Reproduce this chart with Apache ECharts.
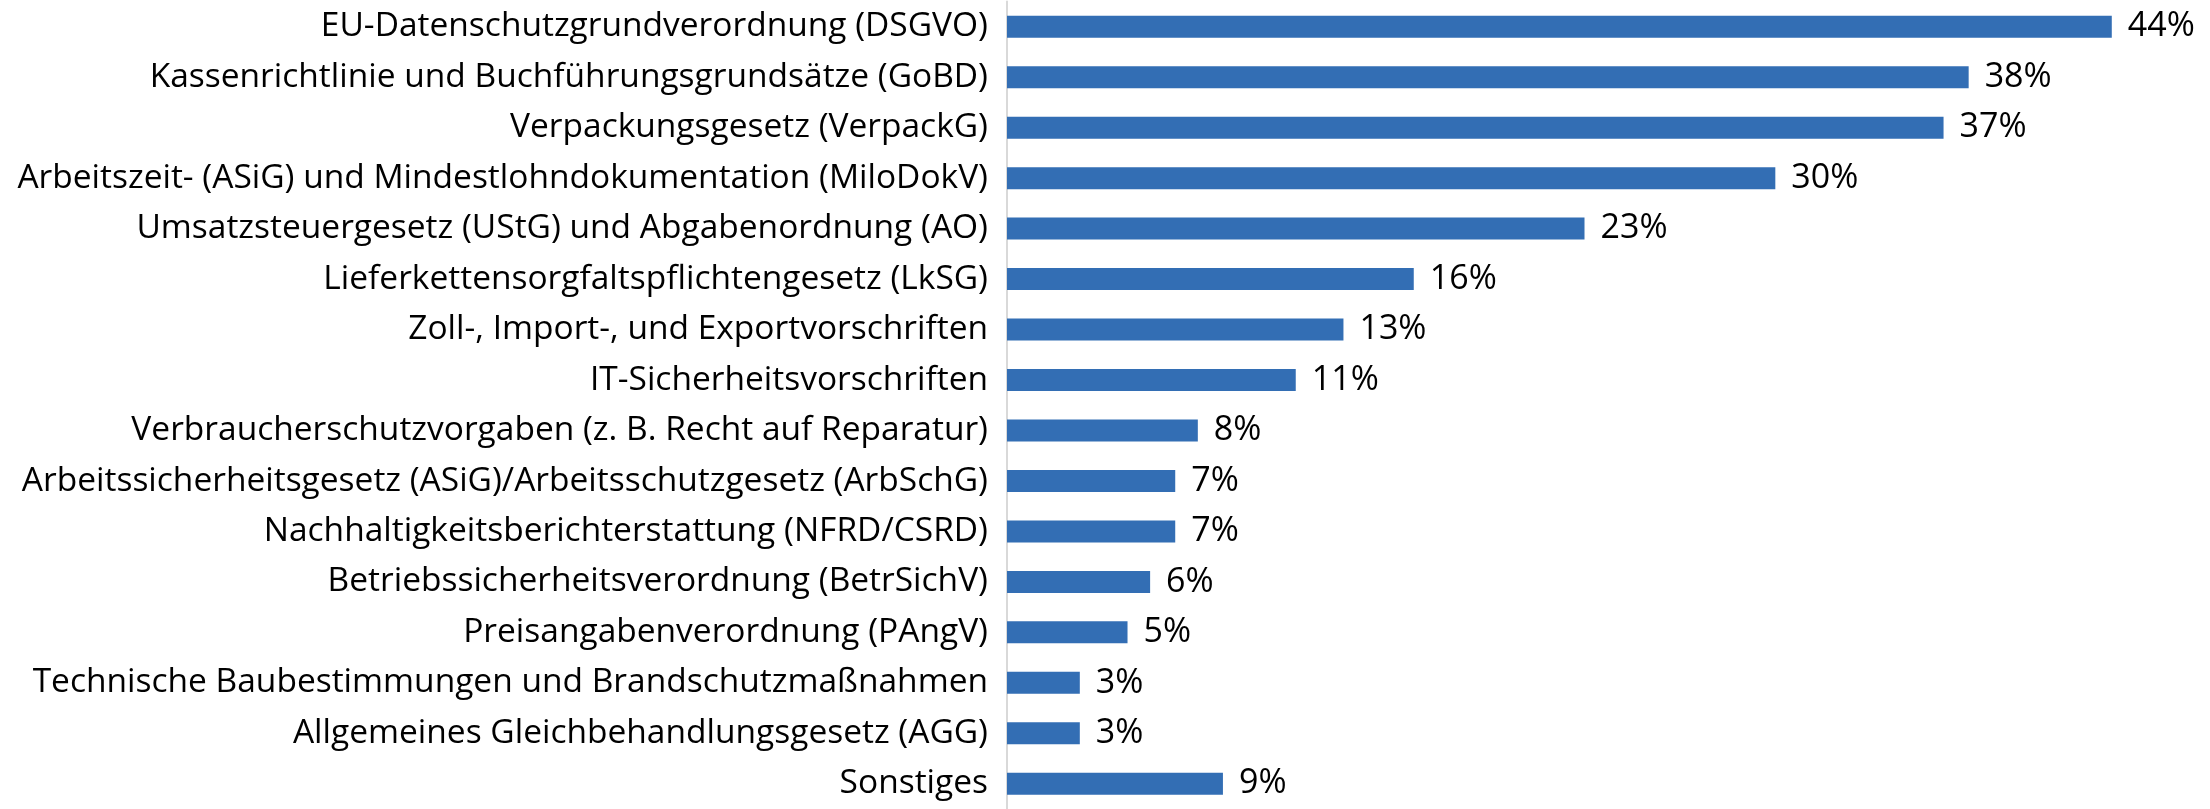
<!DOCTYPE html>
<html>
<head>
<meta charset="utf-8">
<script src="https://cdn.jsdelivr.net/npm/echarts@6/dist/echarts.min.js"></script>
<style>
  html, body { margin: 0; padding: 0; background: #fff; }
  #chart { width: 2210px; height: 809px; }
</style>
</head>
<body>
<div id="chart"></div>
<script>
  // categories, top to bottom
  const categories = [
    'EU-Datenschutzgrundverordnung (DSGVO)',
    'Kassenrichtlinie und Buchführungsgrundsätze (GoBD)',
    'Verpackungsgesetz (VerpackG)',
    'Arbeitszeit- (ASiG) und Mindestlohndokumentation (MiloDokV)',
    'Umsatzsteuergesetz (UStG) und Abgabenordnung (AO)',
    'Lieferkettensorgfaltspflichtengesetz (LkSG)',
    'Zoll-, Import-, und Exportvorschriften',
    'IT-Sicherheitsvorschriften',
    'Verbraucherschutzvorgaben (z. B. Recht auf Reparatur)',
    'Arbeitssicherheitsgesetz (ASiG)/Arbeitsschutzgesetz (ArbSchG)',
    'Nachhaltigkeitsberichterstattung (NFRD/CSRD)',
    'Betriebssicherheitsverordnung (BetrSichV)',
    'Preisangabenverordnung (PAngV)',
    'Technische Baubestimmungen und Brandschutzmaßnahmen',
    'Allgemeines Gleichbehandlungsgesetz (AGG)',
    'Sonstiges'
  ];
  // bar lengths (in %)
  const values = [44.0, 38.3, 37.3, 30.6, 23.0, 16.2, 13.4, 11.5, 7.6, 6.7, 6.7, 5.7, 4.8, 2.9, 2.9, 8.6];
  // printed value labels
  const valueLabels = ['44%', '38%', '37%', '30%', '23%', '16%', '13%', '11%', '8%', '7%', '7%', '6%', '5%', '3%', '3%', '9%'];

  const myChart = echarts.init(document.getElementById('chart'));
  const option = {
    animation: false,
    textStyle: { fontFamily: 'Open Sans' },
    grid: { left: 1007, top: 1.5, width: 1155, height: 816.5, containLabel: false },
    xAxis: {
      type: 'value',
      min: 0,
      max: 46,
      show: false
    },
    yAxis: {
      type: 'category',
      inverse: true,
      data: categories,
      axisTick: { show: false },
      axisLine: { show: true, lineStyle: { color: '#d9d9d9', width: 2 } },
      axisLabel: { color: '#000', fontSize: 33.5, margin: 19, fontFamily: 'Open Sans' }
    },
    series: [{
      type: 'bar',
      barWidth: 22,
      data: values,
      itemStyle: { color: '#336eb4' },
      label: {
        show: true,
        position: 'right',
        distance: 16,
        color: '#000',
        fontSize: 34,
        fontFamily: 'Open Sans',
        formatter: function (p) { return valueLabels[p.dataIndex]; }
      }
    }]
  };
  myChart.setOption(option);
</script>
</body>
</html>
